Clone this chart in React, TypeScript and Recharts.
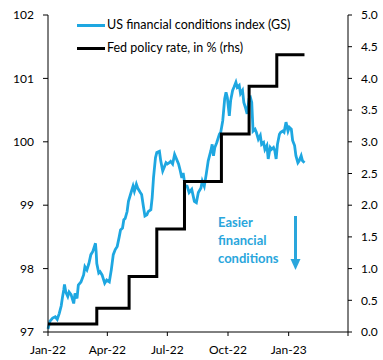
import React from 'react';
import { LineChart, Line, XAxis, YAxis } from 'recharts';

// Days since 1 Jan 2022
const fciDays = [0,3,7,11,14,17,20,22,24,25,27,30,32,35,39,41,44,46,50,54,56,59,62,65,68,72,73,74,77,79,82,86,89,93,96,99,102,105,108,110,113,115,117,120,122,126,129,131,134,136,140,142,145,147,150,152,156,158,160,163,165,169,171,174,176,179,181,184,186,189,192,194,198,200,203,205,208,211,214,218,222,225,228,232,234,237,240,243,247,249,251,253,256,260,262,265,268,270,272,275,277,280,282,285,287,290,292,295,297,300,302,305,307,309,311,314,316,319,322,324,327,329,332,334,337,339,342,344,346,348,351,353,356,358,361,364,366,369,371,374,376,379,381,384,386,389];
const fciValues = [97.05,97.17,97.22,97.24,97.2,97.29,97.41,97.55,97.67,97.75,97.63,97.56,97.63,97.59,97.45,97.61,97.53,97.74,97.79,97.9,98.03,97.98,98.08,98.22,98.27,98.4,98.27,98.08,97.93,97.95,97.9,97.77,97.82,97.79,97.98,98.22,98.3,98.35,98.5,98.61,98.64,98.77,98.79,98.9,99.06,99.2,99.3,99.22,99.33,99.27,99.2,99.17,98.96,98.83,98.85,98.9,98.93,99.12,99.43,99.75,99.83,99.85,99.7,99.54,99.59,99.67,99.65,99.67,99.69,99.65,99.8,99.75,99.65,99.57,99.43,99.51,99.3,99.3,99.2,99.25,99.06,99.04,99.2,99.27,99.38,99.3,99.49,99.7,99.86,99.96,99.78,99.91,99.99,100.12,100.15,100.33,100.68,100.78,100.7,100.41,100.65,100.81,100.86,100.94,100.86,100.89,100.76,100.81,100.62,100.52,100.44,100.68,100.7,100.62,100.17,100.2,100.15,100.04,100.1,99.96,99.99,99.88,99.94,99.73,99.91,99.88,99.91,99.86,99.73,99.96,100.12,100.15,100.17,100.15,100.31,100.17,100.23,100.2,100.02,99.94,99.78,99.67,99.7,99.78,99.7,99.67];

// FOMC decision days (since 1 Jan 2022) and target-range midpoints
const fedDays = [0, 74, 123, 165, 207, 263, 305, 347, 389];
const fedRates = [0.125, 0.375, 0.875, 1.625, 2.375, 3.125, 3.875, 4.375, 4.375];

const xTicks = [0, 90, 181, 273, 365, 455];
const xTickLabels = ['Jan-22', 'Apr-22', 'Jul-22', 'Oct-22', 'Jan-23', ''];
const leftTicks = [97, 98, 99, 100, 101, 102];
const rightTicks = [0, 0.5, 1, 1.5, 2, 2.5, 3, 3.5, 4, 4.5, 5];

const seriesNames = ['US financial conditions index (GS)', 'Fed policy rate, in % (rhs)'];
const annotationLines = ['Easier', 'financial', 'conditions'];

const fciData = fciDays.map((d, i) => ({ d, v: fciValues[i] }));
const fedData = fedDays.map((d, i) => ({ d, v: fedRates[i] }));

const BLUE = '#1ea7e1';
const FONT = 'Lato, "Open Sans", sans-serif';

export default function App() {
  const tickStyle = { fill: '#000', fontSize: 12, fontFamily: FONT };
  return (
    <div style={{ position: 'absolute', left: 0, top: 0, width: 383, height: 360, background: '#fff' }}>
      <LineChart width={383} height={360} data={fciData} margin={{ top: 15, right: 0, bottom: 0, left: 0 }}>
        <XAxis
          dataKey="d"
          type="number"
          domain={[0, 455]}
          ticks={xTicks}
          tickFormatter={(v: number) => xTickLabels[xTicks.indexOf(v)] ?? ''}
          height={28}
          tickSize={4}
          tickMargin={9}
          stroke="#000"
          tick={tickStyle}
          interval={0}
        />
        <YAxis
          yAxisId="left"
          domain={[97, 102]}
          ticks={leftTicks}
          width={48}
          tickSize={5}
          tickMargin={9}
          stroke="#000"
          tick={tickStyle}
          interval={0}
        />
        <YAxis
          yAxisId="right"
          orientation="right"
          domain={[0, 5]}
          ticks={rightTicks}
          tickFormatter={(v: number) => v.toFixed(1)}
          width={35}
          tickSize={4}
          tickMargin={9}
          stroke="#000"
          tick={{ ...tickStyle, textAnchor: 'start' }}
          interval={0}
        />
        <Line
          yAxisId="left"
          data={fciData}
          dataKey="v"
          type="linear"
          stroke={BLUE}
          strokeWidth={2.8}
          dot={false}
          isAnimationActive={false}
        />
        <Line
          yAxisId="right"
          data={fedData}
          dataKey="v"
          type="stepAfter"
          stroke="#000"
          strokeWidth={3}
          dot={false}
          isAnimationActive={false}
        />
      </LineChart>
      {/* legend */}
      <div style={{ position: 'absolute', left: 77, top: 14, fontFamily: FONT, fontSize: 12.5, color: '#000', lineHeight: '22px' }}>
        {seriesNames.map((n, i) => (
          <div key={n} style={{ display: 'flex', alignItems: 'center', height: 22, marginBottom: i === 0 ? 1 : 0 }}>
            <span style={{ display: 'inline-block', width: 28, height: 3, background: i === 0 ? BLUE : '#000', marginRight: 2 }} />
            <span style={{ whiteSpace: 'nowrap' }}>{n}</span>
          </div>
        ))}
      </div>
      {/* annotation */}
      <div style={{ position: 'absolute', left: 218, top: 213, fontFamily: FONT, fontSize: 13, fontWeight: 700, color: '#2aa6dc', lineHeight: '18px' }}>
        {annotationLines.map((t) => (
          <div key={t}>{t}</div>
        ))}
      </div>
      <svg style={{ position: 'absolute', left: 0, top: 0 }} width={383} height={360}>
        <line x1={295.5} y1={216} x2={295.5} y2={262} stroke="#2aa6dc" strokeWidth={3} />
        <polygon points="290.5,259 300.5,259 295.5,270" fill="#2aa6dc" />
      </svg>
    </div>
  );
}
